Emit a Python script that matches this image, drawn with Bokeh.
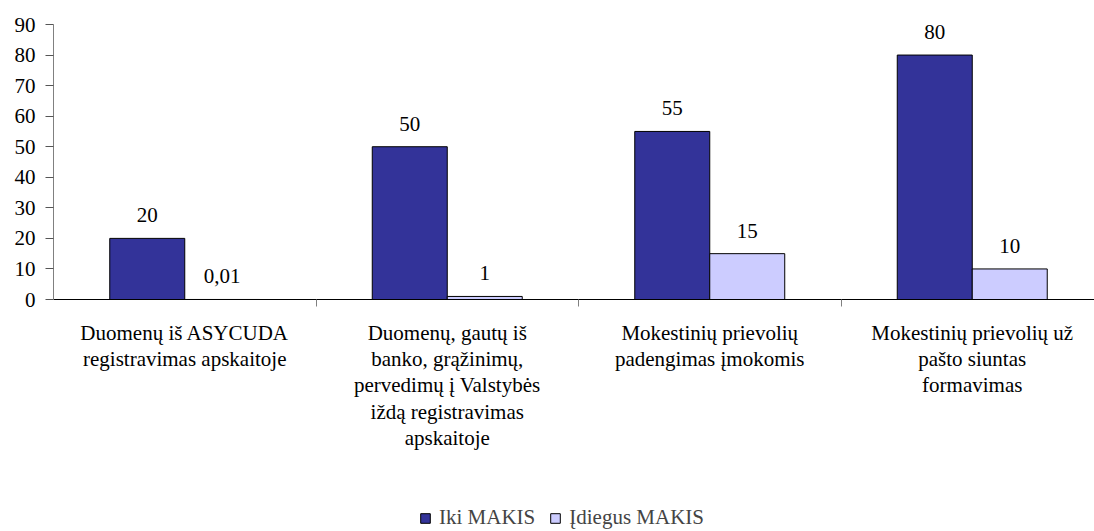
from bokeh.plotting import figure
from bokeh.models import (Range1d, FixedTicker, ColumnDataSource, LabelSet,
                          Legend, LegendItem)
from bokeh.embed import file_html
from bokeh.resources import INLINE

# ---- data ----
categories = [
    "Duomenų iš ASYCUDA registravimas apskaitoje",
    "Duomenų, gautų iš banko, grąžinimų, pervedimų į Valstybės iždą registravimas apskaitoje",
    "Mokestinių prievolių padengimas įmokomis",
    "Mokestinių prievolių už pašto siuntas formavimas",
]
tick_labels = [
    "Duomenų iš ASYCUDA\nregistravimas apskaitoje",
    "Duomenų, gautų iš\nbanko, grąžinimų,\npervedimų į Valstybės\niždą registravimas\napskaitoje",
    "Mokestinių prievolių\npadengimas įmokomis",
    "Mokestinių prievolių už\npašto siuntas\nformavimas",
]
series_names = ["Iki MAKIS", "Įdiegus MAKIS"]
iki = [20, 50, 55, 80]
idiegus = [0.01, 1, 15, 10]
iki_text = ["20", "50", "55", "80"]
idiegus_text = ["0,01", "1", "15", "10"]
y_ticks = [0, 10, 20, 30, 40, 50, 60, 70, 80, 90]

FONT = "'Liberation Serif', 'Times New Roman', serif"
FS = "21px"
colors = ["#333399", "#CCCCFF"]

n = len(categories)
bar_w = 0.2857
centers = [i + 0.5 for i in range(n)]
x_dark = [c - bar_w / 2 for c in centers]
x_light = [c + bar_w / 2 for c in centers]

src_dark = ColumnDataSource(dict(x=x_dark, top=iki, label=iki_text))
src_light = ColumnDataSource(dict(x=x_light, top=idiegus, label=idiegus_text))

# frame spans the whole lower area; value 0 sits at y=299, 90 at y=24
px_per_unit = (299 - 24) / 90.0
y_bottom = -(531 - 299) / px_per_unit

p = figure(width=1094, height=531, output_backend="svg", toolbar_location=None,
           x_range=Range1d(0, (1094 - 53) / 262.5),
           y_range=Range1d(y_bottom, 90),
           min_border_left=53, min_border_right=0, min_border_top=24,
           min_border_bottom=0)
p.outline_line_color = None
p.grid.visible = False
p.background_fill_color = "white"
p.border_fill_color = "white"

r1 = p.vbar(x="x", top="top", width=bar_w, bottom=0, source=src_dark,
            fill_color=colors[0], line_color="black", line_width=1)
r2 = p.vbar(x="x", top="top", width=bar_w, bottom=0, source=src_light,
            fill_color=colors[1], line_color="black", line_width=1)

for src in (src_dark, src_light):
    p.add_layout(LabelSet(x="x", y="top", text="label", source=src,
                          text_align="center", text_baseline="middle",
                          y_offset=23, text_font=FONT, text_font_size=FS,
                          text_color="black"))

# y axis
ya = p.yaxis[0]
ya.ticker = FixedTicker(ticks=y_ticks)
ya.bounds = (0, 90)
ya.axis_line_color = "#808080"
ya.major_tick_line_color = "#555555"
ya.major_tick_out = 8
ya.major_tick_in = 0
ya.minor_tick_line_color = None
ya.major_label_standoff = 10
ya.major_label_text_font = FONT
ya.major_label_text_font_size = FS
ya.major_label_text_color = "black"

# x axis, pinned at value 0
xa = p.xaxis[0]
xa.fixed_location = 0
xa.ticker = FixedTicker(ticks=centers, minor_ticks=[1, 2, 3])
xa.major_label_overrides = {c: t for c, t in zip(centers, tick_labels)}
xa.axis_line_color = "black"
xa.major_tick_line_color = None
xa.major_tick_out = 0
xa.major_tick_in = 0
xa.minor_tick_line_color = "#808080"
xa.minor_tick_out = 7
xa.minor_tick_in = 0
xa.major_label_standoff = 14
xa.major_label_text_font = FONT
xa.major_label_text_font_size = FS
xa.major_label_text_color = "black"
xa.major_label_text_line_height = 1.1

legend = Legend(items=[LegendItem(label=series_names[0], renderers=[r1]),
                       LegendItem(label=series_names[1], renderers=[r2])],
                orientation="horizontal", location=(366, 1),
                glyph_width=12, glyph_height=12, label_standoff=8, spacing=14,
                padding=0, margin=0, border_line_color=None,
                background_fill_alpha=0, label_text_font=FONT,
                label_text_font_size=FS, label_height=18)
p.add_layout(legend, "center")

open("out.html", "w").write(file_html(p, INLINE))
